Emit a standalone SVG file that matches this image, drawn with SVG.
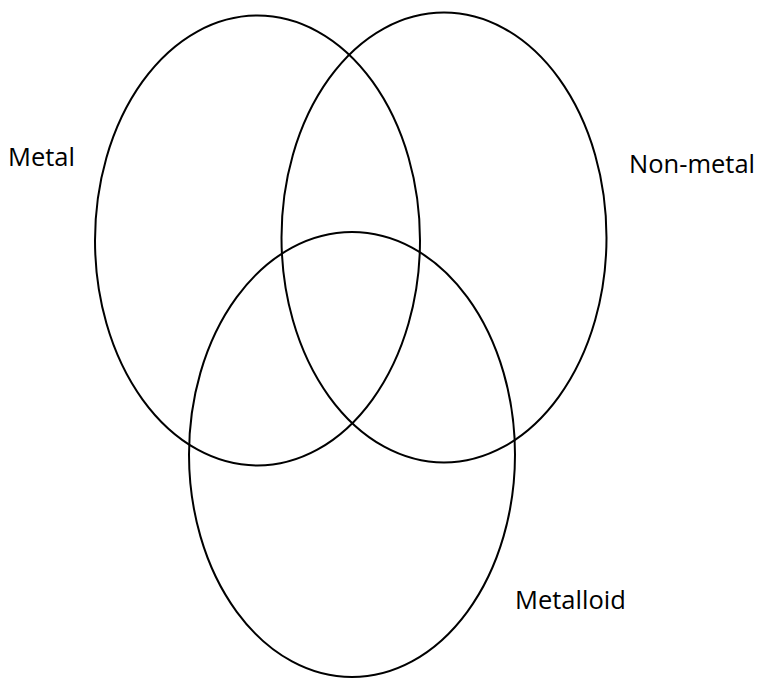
<svg xmlns="http://www.w3.org/2000/svg" width="759" height="679" viewBox="0 0 759 679">
  <style>
    .set { fill: none; stroke: #000; stroke-width: 2; }
    .lbl { font-family: "Open Sans", "Liberation Sans", sans-serif; font-size: 25.5px; fill: #000; }
  </style>
  <rect width="759" height="679" fill="#fff"/>
  <g id="metal">
    <ellipse class="set" cx="257.5" cy="240.5" rx="162.5" ry="225"/>
    <text class="lbl" x="8" y="166">Metal</text>
  </g>
  <g id="non-metal">
    <ellipse class="set" cx="444" cy="237.5" rx="162.5" ry="225"/>
    <text class="lbl" x="629" y="173">Non-metal</text>
  </g>
  <g id="metalloid">
    <ellipse class="set" cx="352" cy="454.5" rx="163" ry="222.5"/>
    <text class="lbl" x="515" y="609">Metalloid</text>
  </g>
  <g id="connectors"></g>
</svg>
